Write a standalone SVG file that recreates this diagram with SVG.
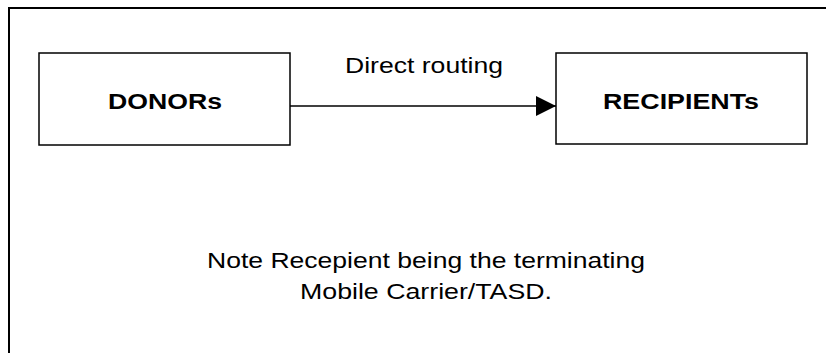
<svg xmlns="http://www.w3.org/2000/svg" width="826" height="353" viewBox="0 0 826 353">
  <style>
    .box { fill: #ffffff; stroke: #000000; stroke-width: 1.5; }
    .lbl { font-family: "Liberation Sans", Arial, sans-serif; font-size: 22px; fill: #000000; }
    .bold { font-weight: bold; }
    .frame { fill: none; stroke: #000000; stroke-width: 2; }
    .conn { stroke: #000000; stroke-width: 1.5; fill: none; }
  </style>
  <defs>
    <marker id="arrow" markerUnits="userSpaceOnUse" markerWidth="20" markerHeight="20" refX="20" refY="10" orient="auto">
      <polygon points="0,0 20,10 0,20" fill="#000000"/>
    </marker>
  </defs>
  <rect width="826" height="353" fill="#ffffff"/>
  <polyline class="frame" points="9,353 9,8 826,8"/>
  <g id="donors">
    <rect class="box" x="39" y="53" width="251" height="92"/>
    <text class="lbl bold" x="108" y="108.5" textLength="114" lengthAdjust="spacingAndGlyphs">DONORs</text>
  </g>
  <g id="recipients">
    <rect class="box" x="556" y="53" width="251" height="91"/>
    <text class="lbl bold" x="603" y="108.5" textLength="156" lengthAdjust="spacingAndGlyphs">RECIPIENTs</text>
  </g>
  <g id="connectors">
    <line class="conn" x1="290" y1="106" x2="556" y2="106" marker-end="url(#arrow)"/>
    <text class="lbl" x="345" y="72.5" textLength="158" lengthAdjust="spacingAndGlyphs">Direct routing</text>
  </g>
  <g id="note">
    <text class="lbl" x="207" y="267.5" textLength="438" lengthAdjust="spacingAndGlyphs">Note Recepient being the terminating</text>
    <text class="lbl" x="300" y="298.5" textLength="252" lengthAdjust="spacingAndGlyphs">Mobile Carrier/TASD.</text>
  </g>
</svg>
